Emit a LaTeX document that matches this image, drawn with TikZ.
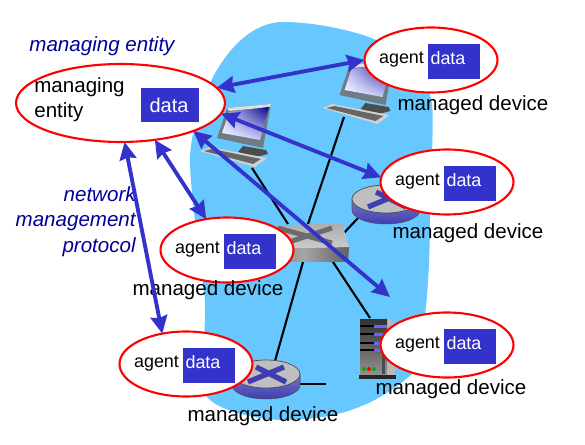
\documentclass[tikz,border=0pt]{standalone}
\usepackage{fontspec}
\setmainfont{Liberation Sans}
\usetikzlibrary{arrows.meta,shapes.geometric,shadings}
\definecolor{cloudblue}{RGB}{102,200,255}
\definecolor{linkblue}{RGB}{51,51,204}
\definecolor{labelblue}{RGB}{0,0,153}
\definecolor{routerblue}{RGB}{62,62,176}
\definecolor{bezelgray}{RGB}{112,124,130}
\tikzset{
  agentshape/.style={ellipse,draw=red,line width=1.2pt,fill=white,inner sep=0pt,outer sep=0pt,minimum width=2.66cm,minimum height=1.3cm},
  databox/.style={fill=linkblue,inner sep=0pt,minimum width=1.04cm,minimum height=0.7cm},
  datatext/.style={text=white,font=\fontsize{10.2}{12}\selectfont,inner sep=0pt},
  agenttext/.style={text=black,font=\fontsize{10.2}{12}\selectfont,inner sep=0pt},
  devicetext/.style={font=\fontsize{11.7}{14}\selectfont,inner sep=0pt},
  roletext/.style={text=labelblue,font=\fontsize{11.7}{14.5}\selectfont\itshape,inner sep=0pt},
  linkline/.style={black,line width=1.2pt},
  mgmtarrow/.style={linkblue,line width=2.2pt,{Stealth[length=10pt,width=9.5pt,inset=1pt]}-{Stealth[length=10pt,width=9.5pt,inset=1pt]}},
  pc/.pic={
    \fill[black!70] (243,146) -- (266,150) -- (268,154) -- (256,157) -- (238,152) -- cycle;
    \fill[bezelgray] (227,108) -- (271,104) -- (263,148) -- (217,138) -- cycle;
    \fill[gray!25] (227,108) -- (271,104) -- (270,107) -- (229,111) -- cycle;
    \shade[lower left=white,upper right=blue!50!black,upper left=blue!25!white,lower right=blue!25!white] (229,112) -- (269,107) -- (260,140) -- (222,133) -- cycle;
    \fill[gray!35] (200,151) -- (210,147) -- (267,158) -- (255,167) -- cycle;
    \fill[black!60] (204,151) -- (212,149) -- (261,159) -- (253,164) -- cycle;
  },
  routerbody/.pic={
    \shade[draw=black!70,line width=0.3pt,top color=routerblue!70!white,bottom color=routerblue] (-34,0) -- (-34,11) arc[start angle=180,end angle=0,x radius=34,y radius=14] -- (34,0) -- cycle;
    \fill[gray!50,draw=black!70,line width=0.4pt] (0,0) ellipse [x radius=34,y radius=14];
    \draw[routerblue,line width=3pt] (-18,8) -- (18,-7) (-10,-7) -- (20,8);
  },
}
\begin{document}
\begin{tikzpicture}[x=0.02cm,y=-0.02cm]
  \useasboundingbox (0,0) rectangle (585,445);
  % cloud behind the network
  \fill[cloudblue] (283,22) .. controls (255,22) and (230,45) .. (213,77)
    .. controls (200,105) and (190,135) .. (190,160)
    .. controls (190,190) and (200,260) .. (205,300)
    .. controls (206,330) and (200,370) .. (207,397)
    .. controls (220,412) and (260,420) .. (283,420)
    .. controls (325,420) and (370,412) .. (413,373)
    .. controls (425,340) and (430,280) .. (430,215)
    .. controls (431,170) and (434,125) .. (432,103)
    .. controls (425,70) and (395,45) .. (363,35)
    .. controls (340,28) and (310,22) .. (283,22) -- cycle;
  % link ends
  \coordinate (pcaport) at (252,168);
  \coordinate (pcbport) at (344,117);
  \coordinate (swa) at (288,224);
  \coordinate (swb) at (308,224);
  \coordinate (swc) at (343,234);
  \coordinate (swd) at (303,262);
  \coordinate (swe) at (333,262);
  \coordinate (routeraport) at (358,218);
  \coordinate (routerbport) at (275,361);
  \coordinate (routerbstub) at (326,384);
  \coordinate (routerbside) at (298,384);
  \coordinate (serverport) at (370,318);
  \coordinate (freeend) at (390,297);
  \draw[linkline] (pcaport) -- (swa);
  \draw[linkline] (pcbport) -- (swb);
  \draw[linkline] (routeraport) -- (swc);
  \draw[linkline] (swd) -- (routerbport);
  \draw[linkline] (swe) -- (serverport);
  \draw[linkline] (routerbside) -- (routerbstub);
  % computers
  \pic at (0,0) {pc};
  \pic at (122.5,-43) {pc};
  % routers
  \pic at (386,199) {routerbody};
  \pic at (266,374) {routerbody};
  % switch
  \shade[left color=gray!95!black,right color=gray!75!black,middle color=gray!70] (258,249) -- (349,247) -- (348,262) -- (262,262) -- cycle;
  \shade[top color=gray!65,bottom color=gray!40] (270,226) -- (342,223) -- (349,247) -- (258,249) -- cycle;
  \draw[gray!85!black,line width=2.8pt] (278,228) -- (332,243) (332,228) -- (292,241);
  % server
  \fill[gray!55] (387,319) -- (391,319) -- (395,330) -- (395,376) -- (387,376) -- cycle;
  \shade[top color=black!80,bottom color=gray!85] (360,320) rectangle (387,375);
  \fill[black!85] (359,375) rectangle (396,379);
  \foreach \y in {326,334,343,350}{
    \fill[black] (360,\y-1) rectangle (387,\y+1);
    \fill[blue!60!white] (374,\y-1) rectangle (387,\y+2);
  }
  \fill[black!70] (382,352) rectangle (385,374);
  \fill[green!70!black] (364,369) circle (2);
  \fill[red] (369,369) circle (2);
  \fill[green!70!black] (374,369) circle (2);
  % managing entity
  \node[agentshape,minimum width=4.18cm,minimum height=1.56cm] (mgr) at (120.5,103) {};
  \node[databox,minimum width=1.16cm,minimum height=0.68cm] (mgrdata) at (170,105) {};
  \node[datatext,font=\fontsize{11.4}{14}\selectfont] (mgrdatatext) at (169,105) {data};
  \node[devicetext,align=left,anchor=north west,font=\fontsize{11.7}{14.5}\selectfont] (mgrtext) at (34,77) {managing\\entity};
  % agents
  \foreach \nm/\x/\y in {agenta/431/60,agentb/447/182,agentc/227/250,agentd/447/345,agente/186/364}{
    \node[agentshape] (\nm) at (\x,\y) {};
    \node[databox] (\nm box) at (\x+23,\y+1.5) {};
    \node[datatext] (\nm data) at (\x+17,\y-2) {data};
    \node[agenttext] (\nm text) at (\x-29.5,\y) {agent};
  }
  % texts
  \node[devicetext] (labela) at (473,105) {managed device};
  \node[devicetext] (labelb) at (468,233) {managed device};
  \node[devicetext] (labelc) at (208,290) {managed device};
  \node[devicetext] (labeld) at (451,389) {managed device};
  \node[devicetext] (labele) at (263,416) {managed device};
  \node[roletext] (roleentity) at (102,46) {managing entity};
  \node[roletext,align=right,anchor=north east] (roleprotocol) at (136,186) {network\\management\\protocol};
  % management arrows
  \draw[mgmtarrow] (mgr.9) -- (agenta.west);
  \draw[mgmtarrow] (mgr.-6) -- (agentb.176);
  \draw[mgmtarrow] (mgr.-21) -- (freeend);
  \draw[mgmtarrow] (mgr.-47) -- (agentc.124);
  \draw[mgmtarrow] (mgr.-84) -- (agente.128);
\end{tikzpicture}
\end{document}
